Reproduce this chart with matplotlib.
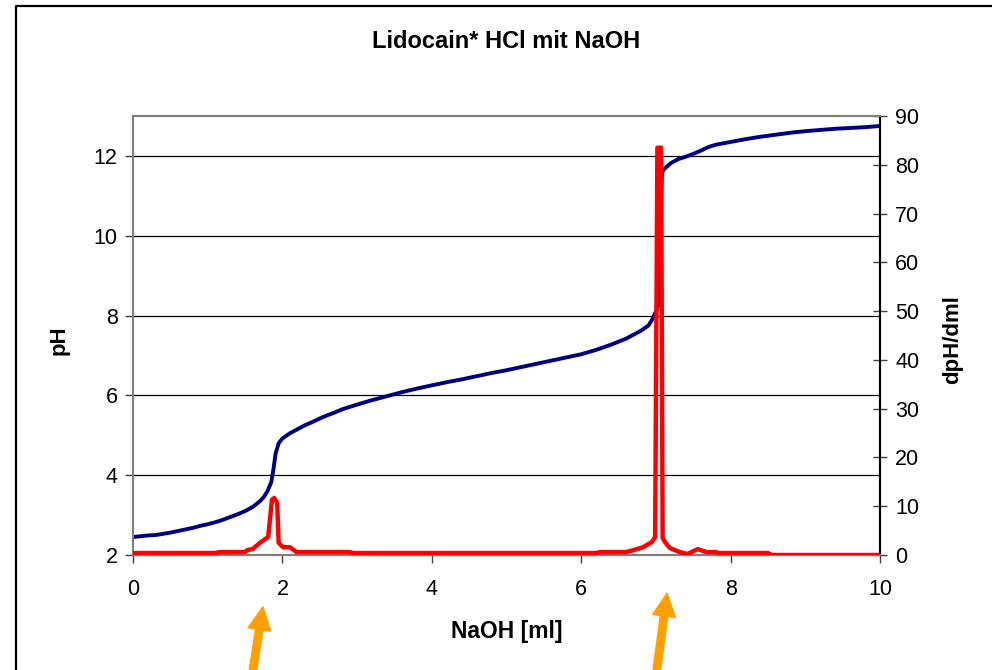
import matplotlib
matplotlib.use("Agg")
import matplotlib.pyplot as plt
from matplotlib.lines import Line2D

plt.rcParams['font.family'] = ['Liberation Sans', 'DejaVu Sans']

# ---- data ----
title = "Lidocain* HCl mit NaOH"
xlabel = "NaOH [ml]"
ylabel_left = "pH"
ylabel_right = "dpH/dml"

ph_x = [0.0, 0.1, 0.2, 0.3, 0.4, 0.5, 0.6, 0.7, 0.8, 0.9, 1.0, 1.1, 1.2, 1.3, 1.4,
        1.5, 1.6, 1.7, 1.75, 1.8, 1.85, 1.88, 1.91, 1.95, 2.0, 2.1, 2.2, 2.3, 2.4,
        2.5, 2.6, 2.7, 2.8, 2.9, 3.0, 3.2, 3.4, 3.6, 3.8, 4.0, 4.2, 4.4, 4.6, 4.8,
        5.0, 5.2, 5.4, 5.6, 5.8, 6.0, 6.2, 6.4, 6.6, 6.8, 6.9, 6.95, 7.0, 7.03,
        7.08, 7.1, 7.2, 7.3, 7.4, 7.5, 7.6, 7.7, 7.8, 8.0, 8.2, 8.4, 8.6, 8.8,
        9.0, 9.2, 9.4, 9.6, 9.8, 10.0]
ph_y = [2.45, 2.47, 2.49, 2.50, 2.53, 2.56, 2.60, 2.64, 2.68, 2.73, 2.77, 2.82, 2.88,
        2.95, 3.02, 3.10, 3.20, 3.35, 3.45, 3.60, 3.82, 4.15, 4.55, 4.80, 4.92, 5.05,
        5.15, 5.25, 5.33, 5.42, 5.50, 5.57, 5.65, 5.71, 5.77, 5.88, 5.98, 6.08, 6.17,
        6.25, 6.33, 6.40, 6.48, 6.56, 6.63, 6.71, 6.79, 6.87, 6.95, 7.03, 7.14, 7.27,
        7.42, 7.62, 7.75, 7.90, 8.10, 8.25, 11.55, 11.65, 11.82, 11.92, 11.98, 12.05,
        12.13, 12.22, 12.28, 12.35, 12.42, 12.48, 12.53, 12.58, 12.62, 12.65, 12.68,
        12.70, 12.72, 12.75]

d_x = [0.0, 1.1, 1.16, 1.5, 1.53, 1.6, 1.7, 1.81, 1.86, 1.89, 1.93, 1.95, 2.01, 2.1,
       2.19, 2.9, 2.95, 6.2, 6.25, 6.6, 6.7, 6.83, 6.95, 6.99, 7.02, 7.07, 7.09,
       7.12, 7.19, 7.32, 7.42, 7.56, 7.68, 7.8, 7.85, 8.5, 8.55, 10.0]
d_y = [0.4, 0.4, 0.6, 0.6, 1.0, 1.2, 2.5, 3.7, 11.3, 11.7, 10.7, 2.5, 1.6, 1.6,
       0.6, 0.6, 0.4, 0.4, 0.6, 0.6, 1.0, 1.6, 2.7, 3.7, 83.5, 83.5, 3.5,
       2.7, 1.4, 0.6, 0.2, 1.2, 0.6, 0.6, 0.4, 0.4, 0.0, 0.0]

x_ticks = [0, 2, 4, 6, 8, 10]
ph_ticks = [2, 4, 6, 8, 10, 12]
d_ticks = [0, 10, 20, 30, 40, 50, 60, 70, 80, 90]
arrow_x = [1.74, 7.15]

# ---- figure ----
W, H = 992, 670
fig = plt.figure(figsize=(W / 100, H / 100), dpi=100)
L, R, T, B = 133, 880, 116, 555
ax = fig.add_axes([L / W, 1 - B / H, (R - L) / W, (B - T) / H])
ax2 = ax.twinx()

ax.plot(ph_x, ph_y, color='#000080', lw=2.8, solid_joinstyle='round', zorder=3)
ax2.plot(d_x, d_y, color='#FF0000', lw=3.2, solid_joinstyle='round', zorder=3)

ax.set_xlim(0, 10)
ax.set_ylim(2, 13)
ax2.set_ylim(0, 90)
ax.set_xticks(x_ticks)
ax.set_yticks(ph_ticks)
ax2.set_yticks(d_ticks)

ax.yaxis.grid(True, color='black', lw=0.9)
ax.set_axisbelow(True)

for a in (ax, ax2):
    for s in a.spines.values():
        s.set_color('#808080')
        s.set_linewidth(1.5)
ax2.spines['right'].set_color('black')
ax2.spines['right'].set_linewidth(1.5)

ax.tick_params(axis='x', direction='out', length=6, width=1, color='#404040',
               labelsize=15.5, pad=11)
ax.tick_params(axis='y', direction='out', length=6, width=1, color='#404040',
               labelsize=15.5, pad=5)
ax2.tick_params(axis='y', direction='inout', length=10, width=1, color='#404040',
                labelsize=15.5, pad=6)

ax.set_xlabel(xlabel, fontsize=16.5, fontweight='bold')
ax.xaxis.set_label_coords(0.5, -0.148)
ax.set_ylabel(ylabel_left, fontsize=16, fontweight='bold')
ax.yaxis.set_label_coords(-0.085, 0.49)
ax2.set_ylabel(ylabel_right, fontsize=16, fontweight='bold')
ax2.yaxis.set_label_coords(1.083, 0.49)

fig.text(506 / W, 1 - 42 / H, title, ha='center', va='center',
         fontsize=17, fontweight='bold')

# outer chart frame
fig.add_artist(Line2D([16 / W, 16 / W, 1.0], [-0.05, 1 - 6 / H, 1 - 6 / H],
                      transform=fig.transFigure, color='black', lw=1.6))

# orange arrows pointing at the peaks
tips_y = [-0.118, -0.087]
for xa, ty in zip(arrow_x, tips_y):
    ax.annotate('', xy=(xa, ty), xycoords=('data', 'axes fraction'),
                xytext=(xa - 0.16, -0.29), textcoords=('data', 'axes fraction'),
                arrowprops=dict(arrowstyle='simple,head_length=0.55,head_width=0.55,tail_width=0.18',
                                mutation_scale=30, color='#FFA000', shrinkA=0, shrinkB=0),
                annotation_clip=False)

fig.savefig('out.png', dpi=100)
